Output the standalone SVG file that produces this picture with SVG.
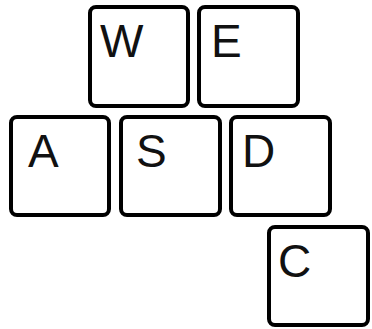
<svg xmlns="http://www.w3.org/2000/svg" width="372" height="329" viewBox="0 0 372 329">
<style>
.key{fill:#fff;stroke:#000;stroke-width:4}
.lbl{font-family:"Liberation Sans",Arial,sans-serif;font-size:46px;fill:#111}
</style>
<rect width="372" height="329" fill="#fff"/>
<g id="W"><rect class="key" x="90" y="7" width="98" height="99" rx="6"/><text class="lbl" x="100" y="57">W</text></g>
<g id="E"><rect class="key" x="199" y="7" width="99" height="99" rx="6"/><text class="lbl" x="211" y="57">E</text></g>
<g id="A"><rect class="key" x="11" y="117" width="98" height="98" rx="6"/><text class="lbl" x="28" y="167">A</text></g>
<g id="S"><rect class="key" x="121" y="117" width="99" height="98" rx="6"/><text class="lbl" x="136" y="167">S</text></g>
<g id="D"><rect class="key" x="231" y="117" width="99" height="98" rx="6"/><text class="lbl" x="242" y="167">D</text></g>
<g id="C"><rect class="key" x="269" y="227" width="99" height="98" rx="6"/><text class="lbl" x="278" y="277">C</text></g>
<g id="connectors"/>
</svg>
